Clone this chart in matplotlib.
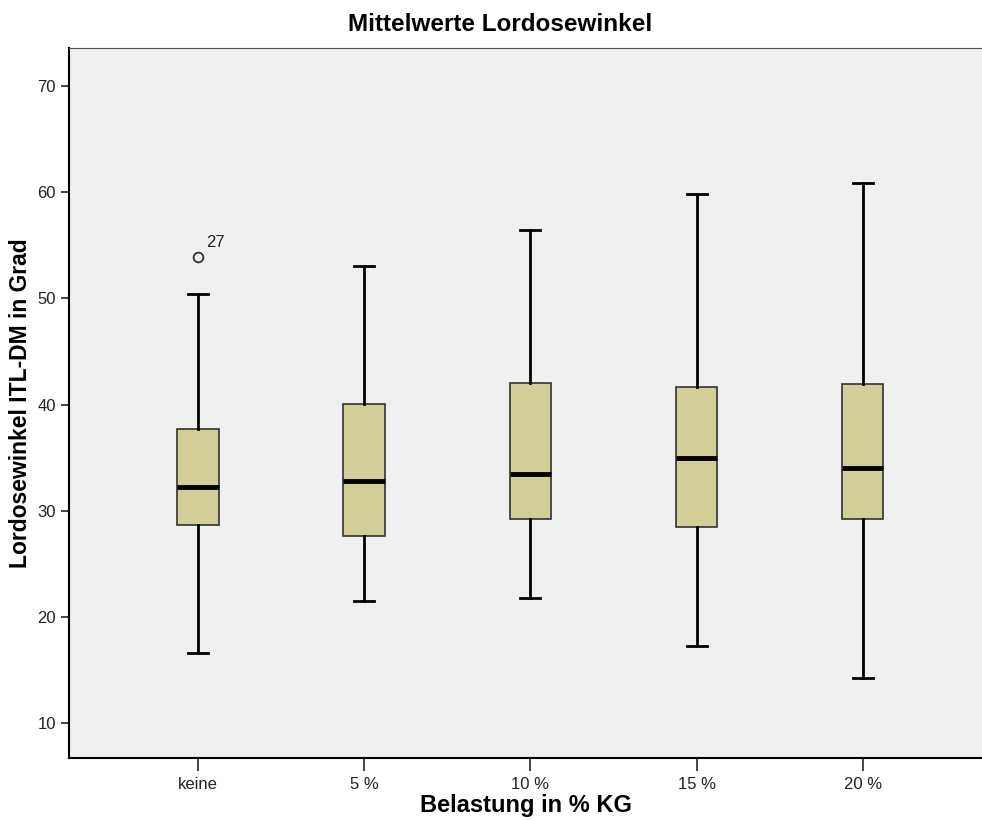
import numpy as np
import matplotlib.pyplot as plt

plt.rcParams["font.family"] = ["Liberation Sans", "DejaVu Sans"]

# werte
gruppen = ["keine", "5 %", "10 %", "15 %", "20 %"]
whisk_lo = [16.6, 21.5, 21.8, 17.3, 14.2]
q1 = [28.7, 27.6, 29.2, 28.5, 29.2]
median = [32.2, 32.8, 33.5, 35.0, 34.0]
q3 = [37.7, 40.1, 42.0, 41.7, 41.9]
whisk_hi = [50.4, 53.1, 56.5, 59.8, 60.9]
ausreisser = [[53.9], [], [], [], []]
ausreisser_nr = [["27"], [], [], [], []]

stats = []
for i in range(len(gruppen)):
    stats.append({"label": gruppen[i], "whislo": whisk_lo[i], "q1": q1[i],
                  "med": median[i], "q3": q3[i], "whishi": whisk_hi[i],
                  "fliers": ausreisser[i]})

fig = plt.figure(figsize=(9.82, 8.21), dpi=100)
ax = fig.add_axes([0.0703, 0.0767, 0.93, 0.8648])
ax.set_facecolor("#f0f0f0")

pos = np.arange(1, len(gruppen) + 1)
ax.bxp(stats, positions=pos, widths=0.25, patch_artist=True,
       boxprops=dict(facecolor="#d3ce98", edgecolor="#333333", linewidth=1.2),
       medianprops=dict(color="black", linewidth=3.5),
       whiskerprops=dict(color="black", linewidth=2),
       capprops=dict(color="black", linewidth=2),
       capwidths=0.12,
       flierprops=dict(marker="o", markerfacecolor="none", markeredgecolor="#333333",
                       markersize=7, markeredgewidth=1.3))

for i in range(len(gruppen)):
    for v, nr in zip(ausreisser[i], ausreisser_nr[i]):
        ax.annotate(nr, (pos[i], v), xytext=(6, 7), textcoords="offset points",
                    fontsize=12, color="#222222")

ax.set_xlim(0.223, 5.72)
ax.set_ylim(6.7, 73.6)
ax.set_yticks([10, 20, 30, 40, 50, 60, 70])
ax.set_xticks(pos)
ax.set_xticklabels(gruppen)
ax.tick_params(axis="y", direction="out", length=6, width=1.2, labelsize=12, colors="#222222")
ax.tick_params(axis="x", direction="out", length=9, width=1.2, labelsize=12, colors="#222222", pad=5)

ax.spines["right"].set_visible(False)
ax.spines["top"].set_color("#555555")
ax.spines["left"].set_linewidth(1.5)
ax.spines["bottom"].set_linewidth(1.5)

ax.set_title("Mittelwerte Lordosewinkel", fontsize=17.5, fontweight="bold", pad=12,
             x=(500 - 69) / 913)
ax.set_xlabel("Belastung in % KG", fontsize=17, fontweight="bold", labelpad=1)
ax.set_ylabel("Lordosewinkel ITL-DM in Grad", fontsize=16.5, fontweight="bold", labelpad=4)

fig.savefig("out.png", dpi=100)
